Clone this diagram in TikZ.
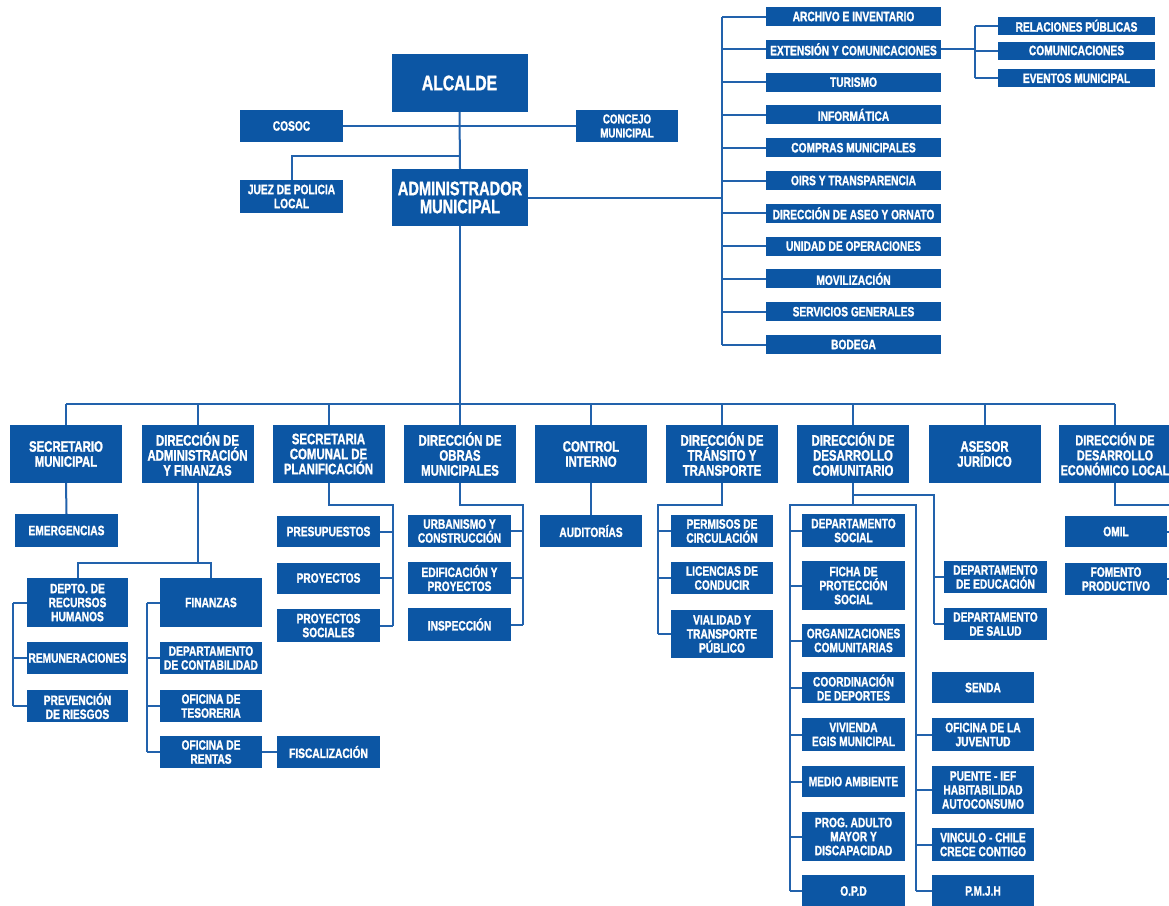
\documentclass[tikz,border=0pt]{standalone}
\usepackage{fontspec}
\newfontfamily\cf[FakeStretch=0.75,FakeBold=1.3]{Liberation Sans Bold}
\definecolor{boxblue}{RGB}{12,86,164}
\definecolor{lineblue}{RGB}{34,98,172}
\tikzset{
  box/.style={fill=boxblue,text=white,inner sep=0pt,align=center,font=\cf\fontsize{13.6}{14}\selectfont},
  dirbox/.style={box,minimum width=112pt,minimum height=58pt,font=\cf\fontsize{15.2}{15}\selectfont},
  sz/.style 2 args={minimum width=#1pt,minimum height=#2pt},
  ln/.style={draw=lineblue,line width=2pt},
}
\begin{document}
\begin{tikzpicture}[x=1pt,y=-1pt]
\useasboundingbox[fill=white] (0,0) rectangle (1169,905);
% ---------- top ----------
\node[box,sz={136}{58},font=\cf\fontsize{21}{16}\selectfont] (alc) at (459.5,83) {ALCALDE};
\node[box,sz={103}{32}] (cosoc) at (291.5,126) {COSOC};
\node[box,sz={102}{32},font=\cf\fontsize{13}{14}\selectfont] (conc) at (627,126) {CONCEJO\\MUNICIPAL};
\node[box,sz={103}{33}] (juez) at (291.5,196.5) {JUEZ DE POLICIA\\LOCAL};
\node[box,sz={136}{57},font=\cf\fontsize{19.5}{18}\selectfont] (adm) at (460,197.5) {ADMINISTRADOR\\MUNICIPAL};
\coordinate (jz) at (460,156);
\draw[ln] (alc.south) -- (adm.north);
\draw[ln] (cosoc.east) -- (conc.west);
\draw[ln] (juez.north) |- (jz);
% ---------- right list ----------
\foreach \n/\t [count=\i from 0] in {arch/ARCHIVO E INVENTARIO,ext/EXTENSIÓN Y COMUNICACIONES,tur/TURISMO,inf/INFORMÁTICA,comp/COMPRAS MUNICIPALES,oirs/OIRS Y TRANSPARENCIA,aseo/DIRECCIÓN DE ASEO Y ORNATO,unid/UNIDAD DE OPERACIONES,movi/MOVILIZACIÓN,serv/SERVICIOS GENERALES,bod/BODEGA}
  \node[box,sz={175}{19}] (\n) at (853.5,{16.5+32.8*\i}) {\t};
\coordinate (rb) at (722,0);
\draw[ln] (adm.east) -- (rb |- adm.east);
\draw[ln] (rb |- arch.west) -- (rb |- bod.west);
\foreach \n in {arch,ext,tur,inf,comp,oirs,aseo,unid,movi,serv,bod}
  \draw[ln] (rb |- \n.west) -- (\n.west);
\node[box,sz={157}{18}] (rel) at (1076.5,25.7) {RELACIONES PÚBLICAS};
\node[box,sz={157}{18}] (com) at (1076.5,50.5) {COMUNICACIONES};
\node[box,sz={157}{18}] (evt) at (1076.5,78.3) {EVENTOS MUNICIPAL};
\coordinate (eb) at (975,0);
\draw[ln] (ext.east) -- (eb |- ext.east);
\draw[ln] (eb |- rel.west) -- (eb |- evt.west);
\foreach \n in {rel,com,evt} \draw[ln] (eb |- \n.west) -- (\n.west);
% ---------- directions ----------
\node[dirbox] (sec) at (66,454) {SECRETARIO\\MUNICIPAL};
\node[dirbox] (daf) at (197.5,454) {DIRECCIÓN DE\\ADMINISTRACIÓN\\Y FINANZAS};
\node[dirbox] (secp) at (328.5,454) {SECRETARIA\\COMUNAL DE\\PLANIFICACIÓN};
\node[dirbox] (dom) at (460,454) {DIRECCIÓN DE\\OBRAS\\MUNICIPALES};
\node[dirbox] (ci) at (591,454) {CONTROL\\INTERNO};
\node[dirbox] (dtt) at (722,454) {DIRECCIÓN DE\\TRÁNSITO Y\\TRANSPORTE};
\node[dirbox] (dc) at (853,454) {DIRECCIÓN DE\\DESARROLLO\\COMUNITARIO};
\node[dirbox] (aj) at (984.5,454) {ASESOR\\JURÍDICO};
\node[dirbox,font=\cf\fontsize{14.5}{15}\selectfont] (ddel) at (1115,454) {DIRECCIÓN DE\\DESARROLLO\\ECONÓMICO LOCAL};
\coordinate (mb) at (0,404);
\draw[ln] (adm.south) -- (adm.south |- mb);
\draw[ln] (sec.north |- mb) -- (ddel.north |- mb);
\foreach \n in {sec,daf,secp,dom,ci,dtt,dc,aj,ddel}
  \draw[ln] (\n.north |- mb) -- (\n.north);
% ---------- secretario ----------
\node[box,sz={103}{33}] (emer) at (66.5,530.5) {EMERGENCIAS};
\draw[ln] (sec.south) -- (emer.north);
% ---------- administracion y finanzas ----------
\node[box,sz={101}{49}] (rrhh) at (77.5,602.5) {DEPTO. DE\\RECURSOS\\HUMANOS};
\node[box,sz={101}{32}] (remu) at (77.5,658) {REMUNERACIONES};
\node[box,sz={101}{32}] (prev) at (77.5,706) {PREVENCIÓN\\DE RIESGOS};
\node[box,sz={102}{49}] (fin) at (211,602.5) {FINANZAS};
\node[box,sz={102}{32}] (conta) at (211,658) {DEPARTAMENTO\\DE CONTABILIDAD};
\node[box,sz={102}{32}] (teso) at (211,706) {OFICINA DE\\TESORERIA};
\node[box,sz={102}{32}] (rent) at (211,752) {OFICINA DE\\RENTAS};
\node[box,sz={103}{32}] (fisc) at (328.5,752) {FISCALIZACIÓN};
\coordinate (afb) at (0,563);
\coordinate (lb) at (13,0);
\coordinate (fb) at (147,0);
\draw[ln] (daf.south) -- (daf.south |- afb);
\draw[ln] (rrhh.north) -- (rrhh.north |- afb) -- (fin.north |- afb) -- (fin.north);
\draw[ln] (lb |- rrhh.west) -- (lb |- prev.west);
\foreach \n in {rrhh,remu,prev} \draw[ln] (lb |- \n.west) -- (\n.west);
\draw[ln] (fb |- fin.west) -- (fb |- rent.west);
\foreach \n in {fin,conta,teso,rent} \draw[ln] (fb |- \n.west) -- (\n.west);
\draw[ln] (rent.east) -- (fisc.west);
% ---------- secplan ----------
\node[box,sz={103}{31}] (pres) at (328.5,531.5) {PRESUPUESTOS};
\node[box,sz={103}{31}] (proy) at (328.5,578) {PROYECTOS};
\node[box,sz={103}{33}] (proys) at (328.5,625.5) {PROYECTOS\\SOCIALES};
\coordinate (spb) at (393,505);
\draw[ln] (secp.south) |- (spb) -- (spb |- proys.east);
\foreach \n in {pres,proy,proys} \draw[ln] (\n.east) -- (spb |- \n.east);
% ---------- obras ----------
\node[box,sz={103}{32}] (urb) at (459.5,531) {URBANISMO Y\\CONSTRUCCIÓN};
\node[box,sz={103}{32}] (edif) at (459.5,578) {EDIFICACIÓN Y\\PROYECTOS};
\node[box,sz={103}{33}] (insp) at (459.5,624.5) {INSPECCIÓN};
\coordinate (ob) at (523,505);
\draw[ln] (dom.south) |- (ob) -- (ob |- insp.east);
\foreach \n in {urb,edif,insp} \draw[ln] (\n.east) -- (ob |- \n.east);
% ---------- control ----------
\node[box,sz={102}{32}] (aud) at (591,531) {AUDITORÍAS};
\draw[ln] (ci.south) -- (aud.north);
% ---------- transito ----------
\node[box,sz={102}{32}] (perm) at (722,531) {PERMISOS DE\\CIRCULACIÓN};
\node[box,sz={102}{32}] (lic) at (722,578) {LICENCIAS DE\\CONDUCIR};
\node[box,sz={102}{48}] (vial) at (722,634) {VIALIDAD Y\\TRANSPORTE\\PÚBLICO};
\coordinate (tb) at (658,505);
\draw[ln] (dtt.south) |- (tb) -- (tb |- vial.west);
\foreach \n in {perm,lic,vial} \draw[ln] (tb |- \n.west) -- (\n.west);
% ---------- dideco ----------
\node[box,sz={103}{33}] (dsoc) at (853.5,530.5) {DEPARTAMENTO\\SOCIAL};
\node[box,sz={103}{49}] (ficha) at (853.5,585.5) {FICHA DE\\PROTECCIÓN\\SOCIAL};
\node[box,sz={103}{33}] (org) at (853.5,640.5) {ORGANIZACIONES\\COMUNITARIAS};
\node[box,sz={103}{31}] (coord) at (853.5,687.5) {COORDINACIÓN\\DE DEPORTES};
\node[box,sz={103}{33}] (viv) at (853.5,734.5) {VIVIENDA\\EGIS MUNICIPAL};
\node[box,sz={103}{31}] (medio) at (853.5,781.5) {MEDIO AMBIENTE};
\node[box,sz={103}{49}] (prog) at (853.5,836.5) {PROG. ADULTO\\MAYOR Y\\DISCAPACIDAD};
\node[box,sz={103}{32}] (opd) at (853.5,891) {O.P.D};
\node[box,sz={102}{31}] (senda) at (983,687.5) {SENDA};
\node[box,sz={102}{33}] (juv) at (983,734.5) {OFICINA DE LA\\JUVENTUD};
\node[box,sz={102}{48}] (puente) at (983,790) {PUENTE - IEF\\HABITABILIDAD\\AUTOCONSUMO};
\node[box,sz={102}{33}] (vinc) at (983,844.5) {VINCULO - CHILE\\CRECE CONTIGO};
\node[box,sz={102}{32}] (pmjh) at (983,891) {P.M.J.H};
\node[box,sz={103}{32}] (educ) at (995.5,577) {DEPARTAMENTO\\DE EDUCACIÓN};
\node[box,sz={103}{32}] (salud) at (995.5,624) {DEPARTAMENTO\\DE SALUD};
\coordinate (dcb) at (0,505);
\coordinate (dcl) at (790,0);
\coordinate (dcr) at (916,0);
\coordinate (dce) at (934,495);
\draw[ln] (dc.south) -- (dc.south |- dcb);
\draw[ln] (dc.south |- dce) -- (dce) -- (dce |- salud.west);
\foreach \n in {educ,salud} \draw[ln] (dce |- \n.west) -- (\n.west);
\draw[ln] (dcl |- opd.west) -- (dcl |- dcb) -- (dcr |- dcb) -- (dcr |- pmjh.west);
\foreach \n in {dsoc,ficha,org,coord,viv,medio,prog,opd} \draw[ln] (dcl |- \n.west) -- (\n.west);
\foreach \n in {juv,puente,vinc,pmjh} \draw[ln] (dcr |- \n.west) -- (\n.west);
% ---------- desarrollo economico ----------
\node[box,sz={102}{31}] (omil) at (1116,531.5) {OMIL};
\node[box,sz={102}{32}] (fom) at (1116,579) {FOMENTO\\PRODUCTIVO};
\coordinate (deb) at (1178,505);
\draw[ln] (ddel.south) |- (deb) -- (deb |- fom.east);
\foreach \n in {omil,fom} \draw[ln] (\n.east) -- (deb |- \n.east);
\end{tikzpicture}
\end{document}
